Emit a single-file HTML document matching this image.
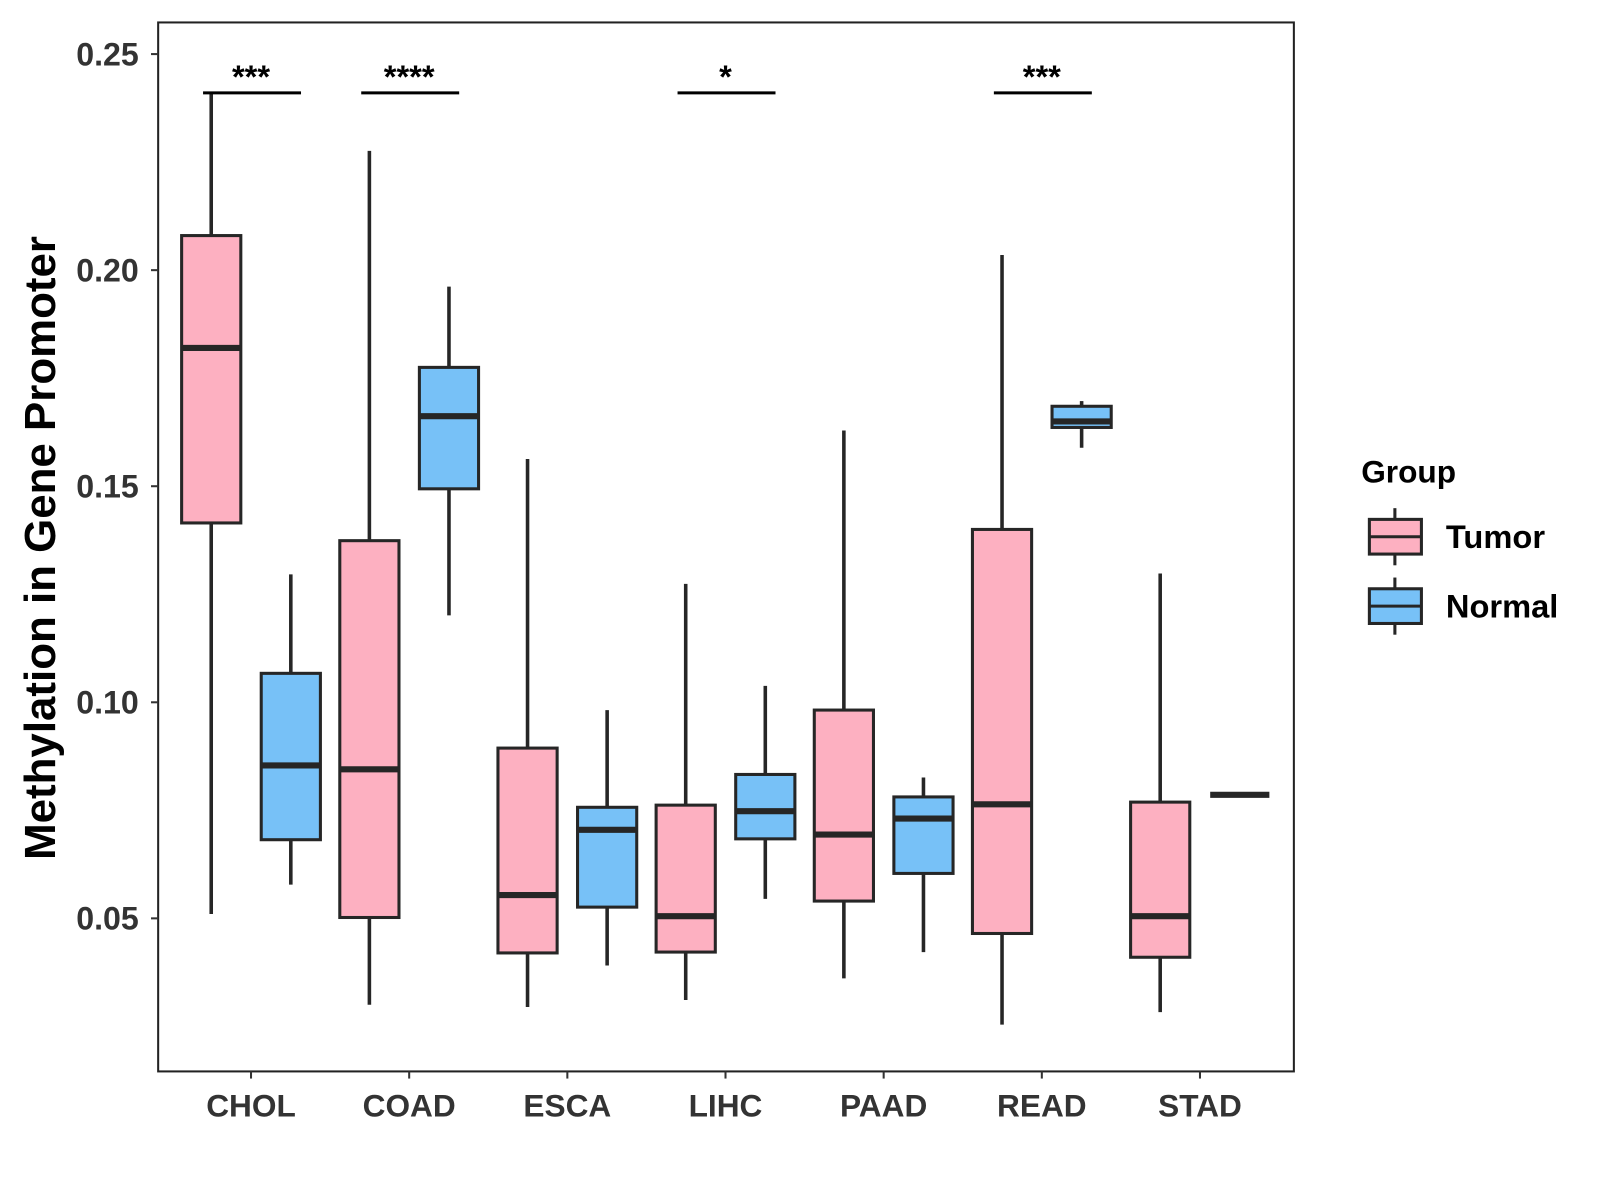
<!DOCTYPE html>
<html><head><meta charset="utf-8"><style>
html,body{margin:0;padding:0;background:#fff;}
svg{display:block;font-family:"Liberation Sans",sans-serif;}
</style></head><body>
<svg id="chart" width="1600" height="1200" viewBox="0 0 1600 1200"><g id="root" transform="scale(1.0204)"></g></svg>
<script>
const categories=["CHOL","COAD","ESCA","LIHC","PAAD","READ","STAD"];
// [low, q1, median, q3, high]
const tumorStats=[
[0.051,0.1415,0.182,0.208,0.241],
[0.030,0.0502,0.0845,0.1374,0.2276],
[0.0295,0.042,0.0554,0.0894,0.1563],
[0.0311,0.0422,0.0505,0.0762,0.1274],
[0.0361,0.054,0.0694,0.0982,0.1629],
[0.0254,0.0465,0.0764,0.140,0.2035],
[0.0283,0.041,0.0505,0.0769,0.1298]];
const normalStats=[
[0.0578,0.0682,0.0854,0.1067,0.1296],
[0.1201,0.1494,0.1662,0.1775,0.1962],
[0.0391,0.0526,0.0705,0.0757,0.0982],
[0.0545,0.0684,0.0748,0.0833,0.1038],
[0.0422,0.0604,0.0731,0.0781,0.0826],
[0.1589,0.1636,0.165,0.1685,0.1697],
[0.0786,0.0786,0.0786,0.0786,0.0786]];
const yTicks=[0.05,0.10,0.15,0.20,0.25];
const yTickLabels=["0.05","0.10","0.15","0.20","0.25"];
const sigLabels=["***","****","","*","","***",""];

const NS="http://www.w3.org/2000/svg";
const svg=document.getElementById('root');
const px0=155,px1=1268,py0=22,py1=1050;
function y(v){return 900-(v-0.05)*4235;}
function x(i){return 246+i*155;}
function mk(t,a,p){const e=document.createElementNS(NS,t);for(const k in a)e.setAttribute(k,a[k]);(p||svg).appendChild(e);return e;}

const panel=mk('rect',{x:px0,y:py0,width:px1-px0,height:py1-py0,fill:'#fff',stroke:'#222','stroke-width':2});



yTicks.forEach((v,i)=>{
  const l=mk('line',{x1:px0-7,x2:px0,y1:y(v),y2:y(v),stroke:'#333','stroke-width':2});
  
  
  const t=mk('text',{x:px0-19,y:y(v)+11,'text-anchor':'end','font-size':31.5,'font-weight':'bold',fill:'#333'});
  t.textContent=yTickLabels[i];
  
  
});
categories.forEach((c,i)=>{
  const l=mk('line',{x1:x(i),x2:x(i),y1:py1,y2:py1+7,stroke:'#333','stroke-width':2});
  
  
  const t=mk('text',{x:x(i),y:1094,'text-anchor':'middle','font-size':31,'font-weight':'bold',fill:'#333'});
  t.textContent=c;
  
  
});

function box(s,cx,fill,name){
  const g=mk('g',{});
  
  
  const w=58;
  mk('line',{x1:cx,x2:cx,y1:y(s[0]),y2:y(s[4]),stroke:'#262626','stroke-width':3.5},g);
  mk('rect',{x:cx-w/2,y:y(s[3]),width:w,height:Math.max(0,y(s[1])-y(s[3])),fill:fill,stroke:'#262626','stroke-width':3},g);
  mk('line',{x1:cx-w/2,x2:cx+w/2,y1:y(s[2]),y2:y(s[2]),stroke:'#262626','stroke-width':6},g);
}
categories.forEach((c,i)=>{
  box(tumorStats[i],x(i)-39,'#FDB0C1','tumor-box-'+c.toLowerCase());
  box(normalStats[i],x(i)+39,'#77C1F7','normal-box-'+c.toLowerCase());
  if(sigLabels[i]){
    const l=mk('line',{x1:x(i)-47,x2:x(i)+49,y1:91,y2:91,stroke:'#000','stroke-width':3});
    
    
    const t=mk('text',{x:x(i),y:86,'text-anchor':'middle','font-size':32,'font-weight':'bold',fill:'#000'});
    t.textContent=sigLabels[i];
    
    
  }
});

const yt=mk('text',{x:0,y:0,transform:'translate(54,537) rotate(-90)','text-anchor':'middle','font-size':43,'font-weight':'bold',fill:'#000'});
yt.textContent='Methylation in Gene Promoter';



const lt=mk('text',{x:1334,y:473,'font-size':31,'font-weight':'bold',fill:'#000'});
lt.textContent='Group';


[['Tumor','#FDB0C1',526],['Normal','#77C1F7',594]].forEach(([lab,col,cy])=>{
  const g=mk('g',{});
  
  
  mk('line',{x1:1367,x2:1367,y1:cy-28,y2:cy+28,stroke:'#262626','stroke-width':3},g);
  mk('rect',{x:1342,y:cy-17,width:51,height:34,fill:col,stroke:'#262626','stroke-width':3},g);
  mk('line',{x1:1342,x2:1393,y1:cy,y2:cy,stroke:'#262626','stroke-width':3},g);
  const t=mk('text',{x:1417,y:cy+11,'font-size':32,'font-weight':'bold',fill:'#000'},g);
  t.textContent=lab;
});
</script>
</body></html>
